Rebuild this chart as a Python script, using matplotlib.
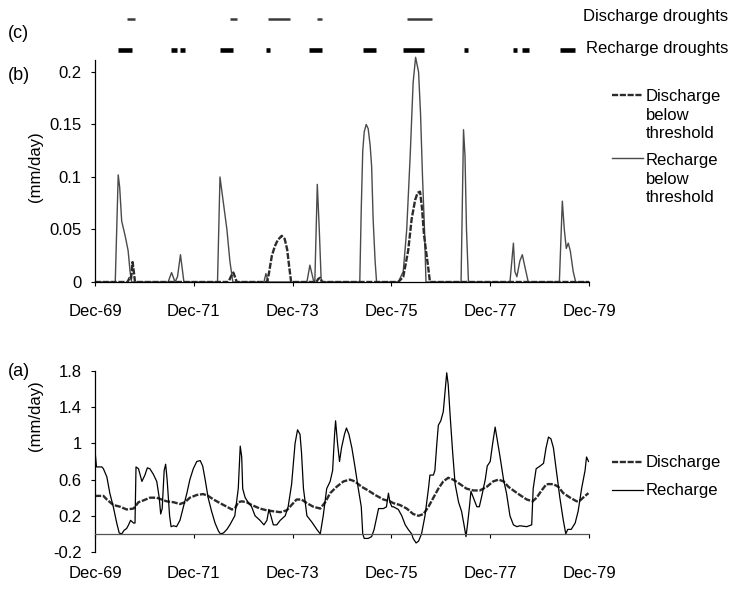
import matplotlib
matplotlib.use("Agg")
import matplotlib.pyplot as plt
from matplotlib.lines import Line2D

plt.rcParams['font.family'] = ['Liberation Sans', 'DejaVu Sans']
plt.rcParams['font.size'] = 12

# Time is expressed in years after December 1969
tick_years = [0, 2, 4, 6, 8, 10]
tick_labels = ["Dec-69", "Dec-71", "Dec-73", "Dec-75", "Dec-77", "Dec-79"]

# (a) recharge and discharge (mm/day)
recharge_t = [0.00, 0.03, 0.14, 0.17, 0.24, 0.30, 0.37, 0.44, 0.49, 0.54, 0.59, 0.64, 0.68, 0.72,
              0.78, 0.81, 0.83, 0.88, 0.95, 1.01, 1.06, 1.11, 1.18, 1.25, 1.30, 1.33, 1.36, 1.40,
              1.43, 1.46, 1.51, 1.54, 1.59, 1.65, 1.72, 1.79, 1.86, 1.92, 1.99, 2.06, 2.13, 2.18,
              2.23, 2.29, 2.36, 2.43, 2.50, 2.54, 2.60, 2.67, 2.73, 2.83, 2.90, 2.94, 2.97, 2.99,
              3.04, 3.10, 3.17, 3.24, 3.34, 3.42, 3.48, 3.52, 3.56, 3.61, 3.68, 3.75, 3.85, 3.91,
              3.98, 4.05, 4.10, 4.15, 4.18, 4.22, 4.29, 4.39, 4.49, 4.56, 4.62, 4.69, 4.76, 4.81,
              4.85, 4.87, 4.91, 4.95, 4.99, 5.05, 5.09, 5.14, 5.20, 5.26, 5.33, 5.39, 5.42, 5.45,
              5.53, 5.60, 5.65, 5.69, 5.74, 5.84, 5.90, 5.94, 5.97, 6.01, 6.04, 6.14, 6.21, 6.28,
              6.34, 6.41, 6.44, 6.50, 6.55, 6.61, 6.68, 6.75, 6.78, 6.85, 6.88, 6.92, 6.95, 7.00,
              7.05, 7.09, 7.12, 7.15, 7.19, 7.24, 7.29, 7.36, 7.42, 7.47, 7.51, 7.54, 7.58, 7.61,
              7.66, 7.73, 7.78, 7.83, 7.90, 7.94, 8.00, 8.05, 8.10, 8.14, 8.20, 8.27, 8.33, 8.40,
              8.47, 8.54, 8.60, 8.74, 8.84, 8.87, 8.93, 9.01, 9.08, 9.13, 9.18, 9.23, 9.28, 9.35,
              9.41, 9.48, 9.53, 9.57, 9.64, 9.72, 9.78, 9.85, 9.92, 9.95, 9.99]
recharge_v = [0.92, 0.74, 0.74, 0.72, 0.63, 0.45, 0.30, 0.12, 0.01, 0.00, 0.04, 0.06, 0.10, 0.15,
              0.12, 0.12, 0.74, 0.72, 0.58, 0.65, 0.73, 0.72, 0.66, 0.58, 0.40, 0.22, 0.28, 0.70,
              0.77, 0.60, 0.20, 0.08, 0.09, 0.08, 0.15, 0.30, 0.45, 0.60, 0.72, 0.80, 0.81, 0.75,
              0.60, 0.40, 0.25, 0.12, 0.03, 0.00, 0.01, 0.05, 0.10, 0.20, 0.50, 0.97, 0.85, 0.50,
              0.40, 0.35, 0.30, 0.20, 0.15, 0.10, 0.15, 0.27, 0.20, 0.10, 0.10, 0.15, 0.20, 0.30,
              0.55, 1.00, 1.15, 1.10, 0.90, 0.50, 0.20, 0.13, 0.05, 0.00, 0.20, 0.50, 0.58, 0.70,
              1.10, 1.25, 1.00, 0.80, 0.95, 1.10, 1.17, 1.10, 0.95, 0.75, 0.50, 0.30, 0.00, -0.05,
              -0.05, -0.03, 0.05, 0.15, 0.28, 0.28, 0.30, 0.45, 0.35, 0.30, 0.30, 0.27, 0.20, 0.10,
              0.05, 0.00, -0.05, -0.10, -0.08, 0.00, 0.20, 0.50, 0.65, 0.65, 0.70, 1.00, 1.20, 1.25,
              1.35, 1.60, 1.78, 1.65, 1.30, 0.90, 0.55, 0.35, 0.25, 0.10, -0.03, 0.10, 0.30, 0.47,
              0.40, 0.30, 0.30, 0.42, 0.60, 0.75, 0.80, 1.00, 1.18, 1.05, 0.85, 0.60, 0.45, 0.20,
              0.10, 0.08, 0.09, 0.08, 0.10, 0.50, 0.72, 0.75, 0.78, 0.95, 1.07, 1.05, 0.95, 0.65,
              0.40, 0.15, 0.00, 0.05, 0.05, 0.12, 0.25, 0.50, 0.70, 0.85, 0.80]

discharge_t = [0.00, 0.17, 0.24, 0.37, 0.51, 0.64, 0.78, 0.81, 0.88, 0.98, 1.11, 1.25, 1.35, 1.45,
               1.59, 1.72, 1.82, 1.92, 2.06, 2.19, 2.29, 2.40, 2.53, 2.67, 2.77, 2.83, 2.90, 2.97,
               3.07, 3.17, 3.34, 3.48, 3.61, 3.75, 3.88, 3.98, 4.08, 4.18, 4.29, 4.42, 4.56, 4.66,
               4.76, 4.89, 5.03, 5.16, 5.26, 5.40, 5.53, 5.67, 5.84, 5.97, 6.04, 6.17, 6.31, 6.44,
               6.55, 6.65, 6.75, 6.85, 6.95, 7.05, 7.15, 7.25, 7.39, 7.52, 7.66, 7.79, 7.93, 8.06,
               8.17, 8.27, 8.37, 8.47, 8.60, 8.74, 8.86, 8.94, 9.04, 9.14, 9.28, 9.38, 9.48, 9.62,
               9.75, 9.82, 9.92, 9.99]
discharge_v = [0.42, 0.42, 0.38, 0.32, 0.30, 0.27, 0.28, 0.30, 0.35, 0.37, 0.40, 0.40, 0.38, 0.36,
               0.35, 0.33, 0.35, 0.40, 0.43, 0.44, 0.42, 0.38, 0.34, 0.30, 0.27, 0.28, 0.35, 0.36,
               0.35, 0.32, 0.28, 0.26, 0.25, 0.24, 0.26, 0.32, 0.38, 0.38, 0.34, 0.30, 0.28, 0.35,
               0.45, 0.52, 0.58, 0.60, 0.58, 0.52, 0.48, 0.43, 0.38, 0.36, 0.34, 0.32, 0.28, 0.22,
               0.20, 0.22, 0.30, 0.40, 0.50, 0.58, 0.62, 0.60, 0.55, 0.50, 0.48, 0.48, 0.52, 0.58,
               0.60, 0.58, 0.52, 0.48, 0.43, 0.38, 0.36, 0.40, 0.48, 0.55, 0.55, 0.52, 0.45, 0.40,
               0.36, 0.37, 0.42, 0.45]

# (b) flux below drought threshold (mm/day)
recharge_def_t = [0.00, 0.40, 0.41, 0.47, 0.50, 0.54, 0.61, 0.67, 0.71, 0.74,
                  1.48, 1.55, 1.62, 1.67, 1.73, 1.80,
                  2.46, 2.48, 2.53, 2.60, 2.67, 2.73, 2.79,
                  3.42, 3.46, 3.51,
                  4.29, 4.35, 4.43, 4.45, 4.50, 4.54, 4.58,
                  5.36, 5.39, 5.42, 5.45, 5.49, 5.53, 5.57, 5.60, 5.63, 5.67, 5.70,
                  6.14, 6.24, 6.31, 6.38, 6.44, 6.49, 6.55, 6.59, 6.63, 6.67, 6.70,
                  7.39, 7.41, 7.46, 7.49, 7.52, 7.56,
                  8.40, 8.47, 8.50, 8.54, 8.60, 8.65, 8.70, 8.77,
                  9.40, 9.46, 9.50, 9.54, 9.58, 9.62, 9.68, 9.73, 10.00]
recharge_def_v = [0.0, 0.0, 0.0, 0.102, 0.09, 0.058, 0.044, 0.03, 0.01, 0.0,
                  0.0, 0.009, 0.0, 0.005, 0.026, 0.0,
                  0.0, 0.0, 0.100, 0.075, 0.05, 0.02, 0.0,
                  0.0, 0.008, 0.0,
                  0.0, 0.016, 0.0, 0.0, 0.093, 0.05, 0.0,
                  0.0, 0.07, 0.125, 0.143, 0.15, 0.146, 0.13, 0.11, 0.06, 0.02, 0.0,
                  0.0, 0.01, 0.05, 0.12, 0.19, 0.214, 0.20, 0.16, 0.10, 0.05, 0.0,
                  0.0, 0.0, 0.145, 0.12, 0.05, 0.0,
                  0.0, 0.037, 0.01, 0.005, 0.02, 0.026, 0.015, 0.0,
                  0.0, 0.077, 0.05, 0.032, 0.037, 0.03, 0.01, 0.0, 0.0]

discharge_def_t = [0.00, 0.66, 0.70, 0.73, 0.76, 0.78, 0.81,
                   2.70, 2.76, 2.80, 2.84, 2.87,
                   3.48, 3.52, 3.58, 3.64, 3.70, 3.78, 3.84, 3.89, 3.93, 3.97,
                   4.48, 4.52, 4.56, 4.60,
                   6.14, 6.24, 6.34, 6.41, 6.48, 6.53, 6.58, 6.62, 6.66, 6.70, 6.75, 6.78, 10.00]
discharge_def_v = [0.0, 0.0, 0.004, 0.003, 0.019, 0.012, 0.0,
                   0.0, 0.006, 0.009, 0.004, 0.0,
                   0.0, 0.008, 0.025, 0.034, 0.040, 0.044, 0.041, 0.031, 0.015, 0.0,
                   0.0, 0.003, 0.004, 0.0,
                   0.0, 0.005, 0.03, 0.06, 0.078, 0.085, 0.086, 0.07, 0.045, 0.03, 0.012, 0.0, 0.0]

# (c) drought periods
discharge_drought_start = [0.65, 2.73, 3.50, 4.49, 6.32]
discharge_drought_end = [0.81, 2.87, 3.95, 4.60, 6.82]
recharge_drought_start = [0.47, 1.54, 1.72, 2.53, 3.46, 4.33, 5.43, 6.23, 7.47, 8.46, 8.64, 9.41]
recharge_drought_end = [0.75, 1.66, 1.82, 2.79, 3.54, 4.60, 5.69, 6.66, 7.55, 8.54, 8.79, 9.72]

W, H = 736, 592
fig = plt.figure(figsize=(W / 100, H / 100), dpi=100)


def axes_px(x0, y0, x1, y1):
    return fig.add_axes([x0 / W, 1 - y1 / H, (x1 - x0) / W, (y1 - y0) / H])


def fig_xy(x, y):
    return x / W, 1 - y / H


dis_style = dict(color='#2b2b2b', lw=1.7, ls=(0, (2.6, 0.7)))
rec_style_b = dict(color='#4a4a4a', lw=1.0)

# ---- (c) drought bars
ax_c = axes_px(95, 5, 589, 60)
ax_c.set_xlim(0, 10)
ax_c.set_ylim(0, 1)
ax_c.axis('off')
ax_c.hlines([0.745] * len(discharge_drought_start), discharge_drought_start,
            discharge_drought_end, color='#3a3a3a', lw=1.8)
ax_c.hlines([0.18] * len(recharge_drought_start), recharge_drought_start,
            recharge_drought_end, color='black', lw=3.3)
fig.text(*fig_xy(728, 17), "Discharge droughts", ha='right', va='center', fontsize=12)
fig.text(*fig_xy(728, 48), "Recharge droughts", ha='right', va='center', fontsize=12)

# ---- (b) fluxes below threshold
ax_b = axes_px(95, 60, 589, 282)
ax_b.plot(recharge_def_t, recharge_def_v, clip_on=False, **rec_style_b)
ax_b.plot(discharge_def_t, discharge_def_v, **dis_style)
ax_b.set_xlim(0, 10)
ax_b.set_ylim(0, 0.2114)
b_ticks = [0, 0.05, 0.1, 0.15, 0.2]
ax_b.set_yticks(b_ticks, labels=[f"{v:g}" for v in b_ticks])
ax_b.set_xticks(tick_years, labels=tick_labels)
ax_b.tick_params(axis='x', direction='out', length=3, width=0.8, pad=13, labelsize=12)
ax_b.tick_params(axis='y', direction='out', length=3, width=0.8, pad=6.5, labelsize=12)
for s in ('top', 'right'):
    ax_b.spines[s].set_visible(False)
for s in ('left', 'bottom'):
    ax_b.spines[s].set_linewidth(0.9)

# ---- (a) recharge and discharge
ax_a = axes_px(95, 371, 589, 552)
ax_a.plot(discharge_t, discharge_v, **dis_style)
ax_a.plot(recharge_t, recharge_v, color='black', lw=0.9)
ax_a.set_xlim(0, 10)
ax_a.set_ylim(-0.2, 1.8)
a_ticks = [-0.2, 0.2, 0.6, 1.0, 1.4, 1.8]
ax_a.set_yticks(a_ticks, labels=[f"{v:g}" for v in a_ticks])
ax_a.set_xticks(tick_years, labels=tick_labels)
ax_a.spines['bottom'].set_position(('data', 0))
ax_a.tick_params(axis='x', direction='out', length=3, width=0.8, pad=20, labelsize=12)
ax_a.tick_params(axis='y', direction='out', length=3, width=0.8, pad=6.5, labelsize=12)
for s in ('top', 'right'):
    ax_a.spines[s].set_visible(False)
ax_a.spines['left'].set_linewidth(0.9)
ax_a.spines['bottom'].set_linewidth(0.9)
ax_a.spines['bottom'].set_color('#555555')

# ---- panel letters and axis titles
for label, y in (("(c)", 34), ("(b)", 76), ("(a)", 372)):
    fig.text(*fig_xy(8, y), label, ha='left', va='center', fontsize=13)
fig.text(*fig_xy(36, 167), "(mm/day)", rotation=90, ha='center', va='center', fontsize=12)
fig.text(*fig_xy(36, 416), "(mm/day)", rotation=90, ha='center', va='center', fontsize=12)

# ---- legends
def legend_entry(y, text, style, ty=None):
    x0, y0 = fig_xy(612, y)
    x1, _ = fig_xy(643, y)
    fig.add_artist(Line2D([x0, x1], [y0, y0], transform=fig.transFigure, **style))
    fig.text(*fig_xy(646, y if ty is None else ty), text, ha='left', va='center',
             fontsize=12, linespacing=1.3)

legend_entry(95, "Discharge\nbelow\nthreshold", dis_style, ty=115)
legend_entry(158, "Recharge\nbelow\nthreshold", rec_style_b, ty=179)
legend_entry(462, "Discharge", dis_style)
legend_entry(490, "Recharge", dict(color='black', lw=0.9))

fig.savefig("out.png", dpi=100)
